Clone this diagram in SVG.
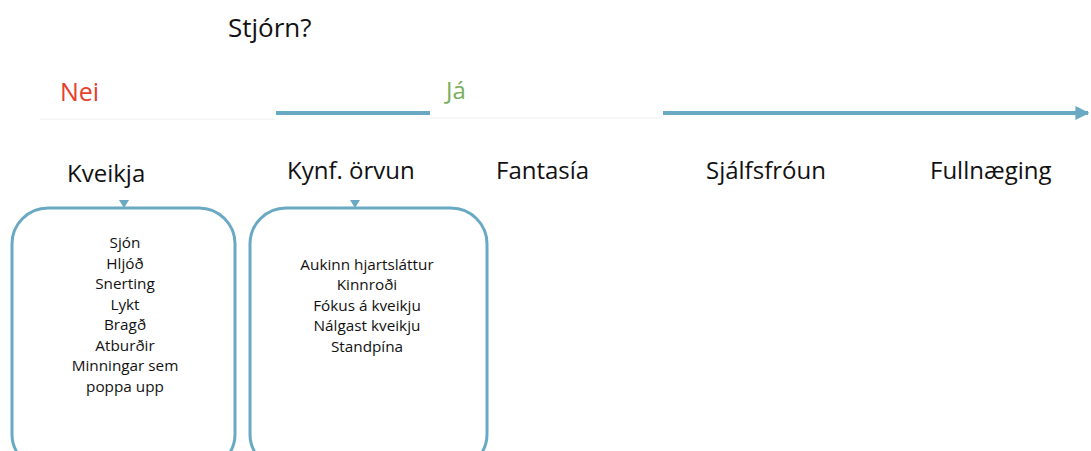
<svg xmlns="http://www.w3.org/2000/svg" width="1091" height="451" viewBox="0 0 1091 451">
<defs>
<style>
.t{font-family:"Open Sans","Liberation Sans",sans-serif;fill:#111}
.h{font-size:24px}
.b{font-size:15.3px;text-anchor:middle}
.box{fill:#fff;stroke:#6aa9c4;stroke-width:3}
.ln{stroke:#6aa9c4;stroke-width:4;fill:none}
</style>
<marker id="ah" viewBox="0 0 10 10" refX="9" refY="5" markerWidth="3.5" markerHeight="3.5" orient="auto" markerUnits="strokeWidth">
<path d="M0,0 L10,5 L0,10 z" fill="#6aa9c4"/>
</marker>
</defs>
<rect width="1091" height="451" fill="#fff"/>
<text class="t" x="228" y="37" font-size="26">Stjórn?</text>
<g id="connectors">
<line class="ln" x1="276" y1="113" x2="430" y2="113"/>
<line class="ln" x1="663" y1="113" x2="1088" y2="113" marker-end="url(#ah)"/>
<line x1="40" y1="119" x2="275" y2="119" stroke="#eee" stroke-width="1"/>
<line x1="430" y1="118" x2="662" y2="118" stroke="#eee" stroke-width="1"/>
</g>
<g id="nei"><text class="t" x="60" y="101" font-size="25" style="fill:#e5402c">Nei</text></g>
<g id="ja"><text class="t" x="446" y="99" font-size="24" style="fill:#78ae5b">Já</text></g>
<g id="kveikja-label"><text class="t h" x="67" y="182">Kveikja</text></g>
<g id="kynf-label"><text class="t h" x="287" y="179">Kynf. örvun</text></g>
<g id="fantasia"><text class="t h" x="496" y="179">Fantasía</text></g>
<g id="sjalfsfroun"><text class="t h" x="706" y="179">Sjálfsfróun</text></g>
<g id="fullnaeging"><text class="t h" x="930" y="179">Fullnæging</text></g>
<g id="kveikja-box">
<rect class="box" x="12" y="208" width="223" height="262" rx="36"/>
<path d="M119,200 L129,200 L124,208 z" fill="#6aa9c4"/>
<text class="t b"><tspan x="125" y="248">Sjón</tspan><tspan x="125" y="268.5">Hljóð</tspan><tspan x="125" y="289">Snerting</tspan><tspan x="125" y="309.5">Lykt</tspan><tspan x="125" y="330">Bragð</tspan><tspan x="125" y="350.5">Atburðir</tspan><tspan x="125" y="371">Minningar sem</tspan><tspan x="125" y="391.5">poppa upp</tspan></text>
</g>
<g id="kynf-box">
<rect class="box" x="250" y="208" width="237" height="262" rx="36"/>
<path d="M350,200 L360,200 L355,208 z" fill="#6aa9c4"/>
<text class="t b"><tspan x="367" y="269.5">Aukinn hjartsláttur</tspan><tspan x="367" y="290">Kinnroði</tspan><tspan x="367" y="310.5">Fókus á kveikju</tspan><tspan x="367" y="331">Nálgast kveikju</tspan><tspan x="367" y="351.5">Standpína</tspan></text>
</g>
</svg>
